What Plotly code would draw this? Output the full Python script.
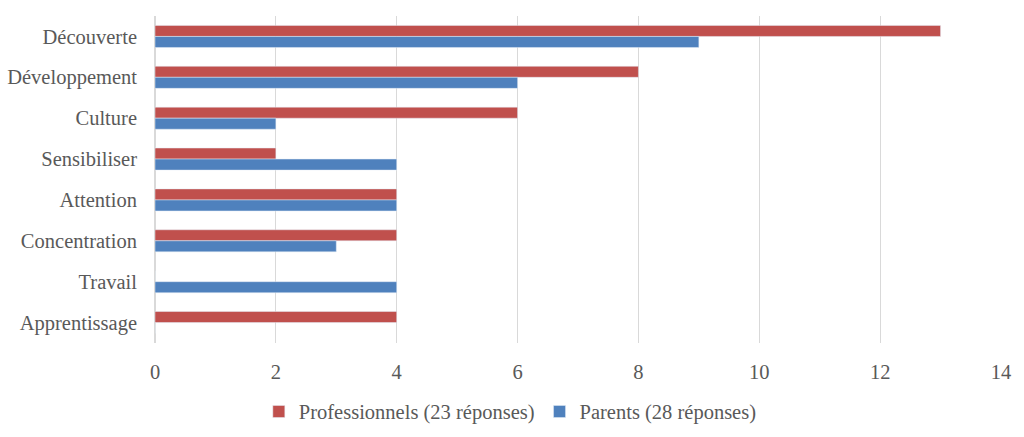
import plotly.graph_objects as go

categories = ["Découverte", "Développement", "Culture", "Sensibiliser",
              "Attention", "Concentration", "Travail", "Apprentissage"]
professionnels = [13, 8, 6, 2, 4, 4, 0, 4]
parents = [9, 6, 2, 4, 4, 3, 4, 0]
x_ticks = [0, 2, 4, 6, 8, 10, 12, 14]

FONT = "Liberation Serif, Times New Roman, serif"

fig = go.Figure()
fig.add_trace(go.Bar(y=categories, x=professionnels, orientation="h",
                     name="Professionnels (23 réponses)", marker_color="#C0504D"))
fig.add_trace(go.Bar(y=categories, x=parents, orientation="h",
                     name="Parents (28 réponses)", marker_color="#4F81BD"))

fig.update_layout(
    width=1024, height=437,
    margin=dict(l=155, r=23, t=16, b=94, autoexpand=False),
    paper_bgcolor="white", plot_bgcolor="white",
    barmode="group", bargap=0.46, bargroupgap=0,
    font=dict(family=FONT, size=20.5, color="#595959"),
    xaxis=dict(range=[0, 14], tickvals=x_ticks, showgrid=True, gridcolor="#D9D9D9",
               gridwidth=1, zeroline=True, zerolinecolor="#D9D9D9", showline=False,
               ticks="", ticklabelstandoff=14, automargin=False),
    yaxis=dict(autorange="reversed", showgrid=False, ticks="", showline=False,
               ticklabelstandoff=17, automargin=False),
    legend=dict(orientation="h", x=0.42, xanchor="center", y=-0.21, yanchor="middle",
                font=dict(family=FONT, size=20.5), itemwidth=30, traceorder="normal"),
)

fig.write_html("out.html")
